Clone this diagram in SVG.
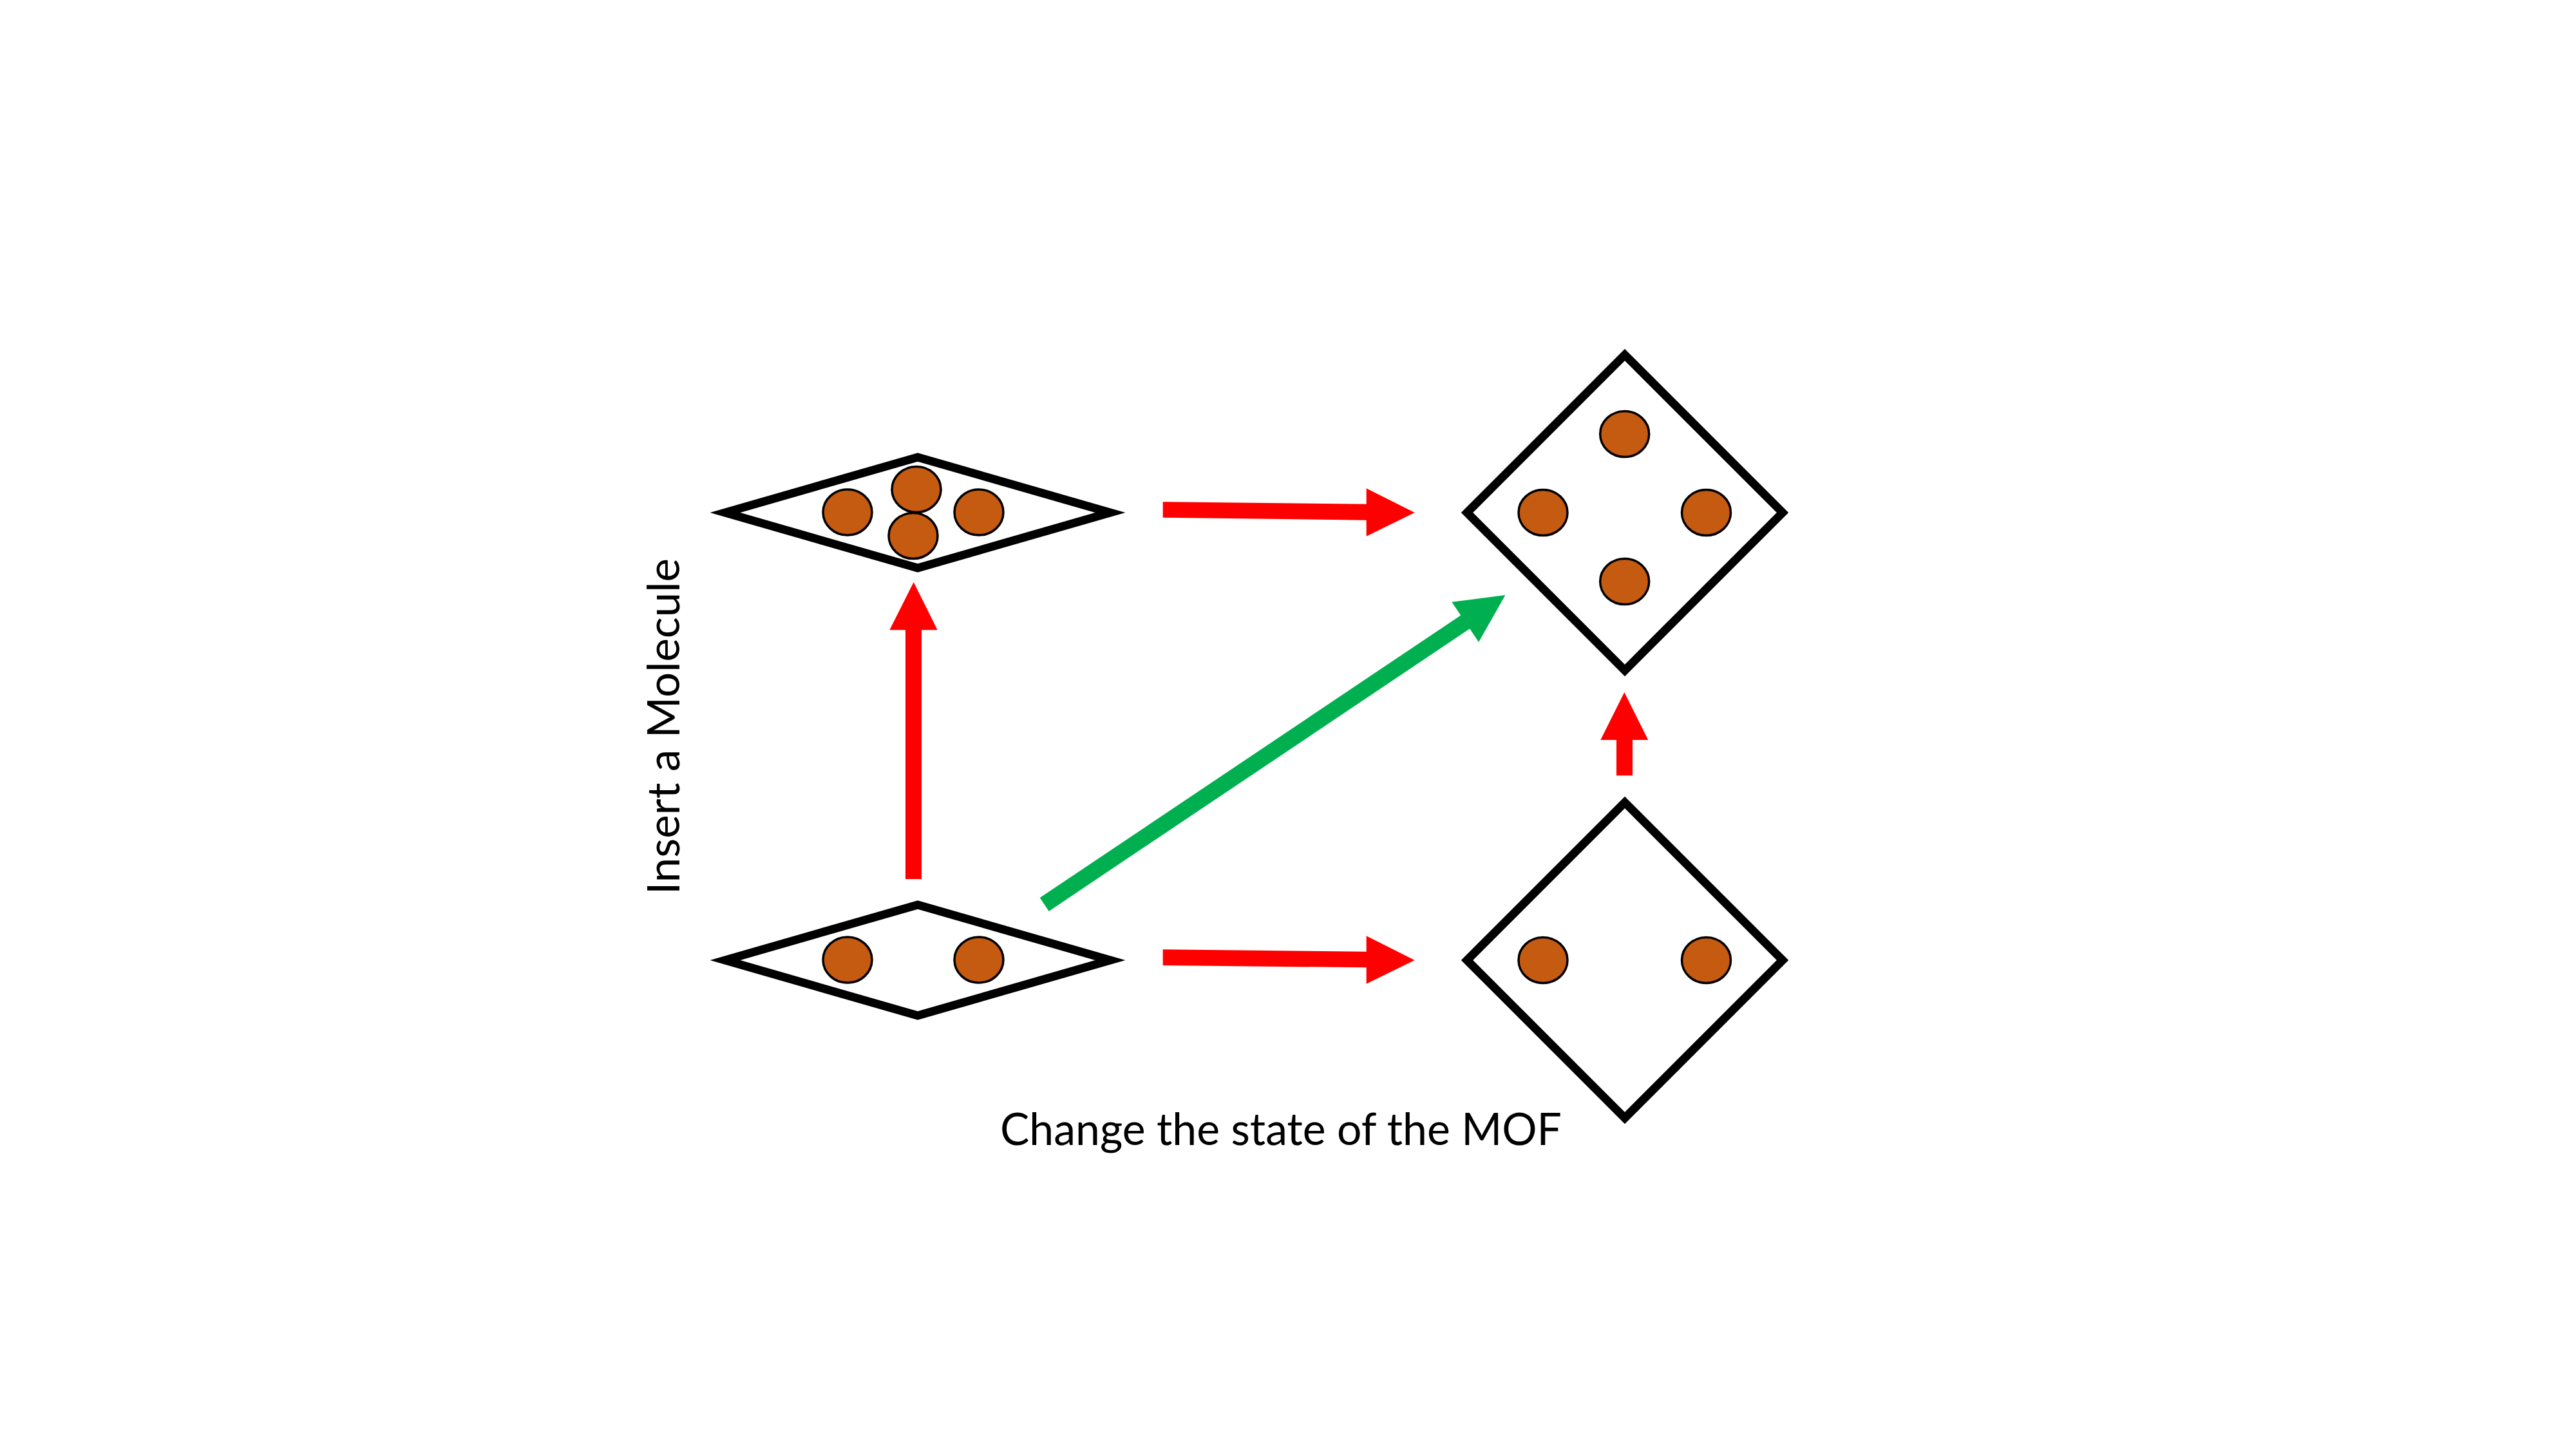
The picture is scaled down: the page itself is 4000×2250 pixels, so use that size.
<svg xmlns="http://www.w3.org/2000/svg" width="4000" height="2250" viewBox="0 0 4000 2250">
  <style>
    .frame { fill: #FFFFFF; stroke: #000000; stroke-width: 13; stroke-linejoin: miter; stroke-miterlimit: 10; }
    .mol { fill: #C55A11; stroke: #000000; stroke-width: 3.5; }
    .red { fill: #FF0000; stroke: none; }
    .green { fill: #00B050; stroke: none; }
    .label { font-family: "Lato", "Open Sans", "Liberation Sans", sans-serif; font-size: 69px; fill: #000000; }
  </style>
  <rect x="0" y="0" width="4000" height="2250" fill="#FFFFFF"/>

  <g id="connectors">
    <polygon id="arrow-top" class="red" points="1805.7,779.3 2121.7,782.7 2121.7,758.3 2196.7,796 2121.7,832.7 2121.7,807.7 1805.7,803.7"/>
    <polygon id="arrow-bottom" class="red" points="1805.7,1474.3 2121.7,1477.7 2121.7,1453.3 2196.7,1491 2121.7,1527.7 2121.7,1502.3 1805.7,1499"/>
    <polygon id="arrow-left-up" class="red" points="1406,1365 1406,978.3 1381.3,978.3 1418.7,904 1455.7,978.3 1431,978.3 1431,1365"/>
    <polygon id="arrow-right-up" class="red" points="2510,1204.3 2510,1149 2485.3,1149 2522.3,1075 2559.3,1149 2535,1149 2535,1204.3"/>
    <polygon id="arrow-diagonal" class="green" points="1614.7,1394.1 2268.2,955.5 2254.3,934.8 2337.5,924.1 2296.1,997.0 2282.2,976.3 1628.7,1414.9"/>
  </g>

  <g id="node-top-left">
    <polygon class="frame" points="1425,710 1724,796 1425,882 1126,796"/>
    <ellipse class="mol" cx="1316" cy="795.5" rx="38" ry="35.5"/>
    <ellipse class="mol" cx="1423" cy="760" rx="38" ry="35.5"/>
    <ellipse class="mol" cx="1520" cy="795.5" rx="38" ry="35.5"/>
    <ellipse class="mol" cx="1418" cy="832" rx="38" ry="35.5"/>
  </g>

  <g id="node-bottom-left">
    <polygon class="frame" points="1425,1405 1724,1491 1425,1577 1126,1491"/>
    <ellipse class="mol" cx="1316" cy="1490.5" rx="38" ry="35.5"/>
    <ellipse class="mol" cx="1520" cy="1490.5" rx="38" ry="35.5"/>
  </g>

  <g id="node-top-right">
    <polygon class="frame" points="2523,551 2768,796 2523,1041 2278,796"/>
    <ellipse class="mol" cx="2522.7" cy="674" rx="38" ry="35.5"/>
    <ellipse class="mol" cx="2396" cy="796" rx="38" ry="35.5"/>
    <ellipse class="mol" cx="2649.5" cy="796" rx="38" ry="35.5"/>
    <ellipse class="mol" cx="2522.7" cy="903" rx="38" ry="35.5"/>
  </g>

  <g id="node-bottom-right">
    <polygon class="frame" points="2523,1246 2768,1491 2523,1736 2278,1491"/>
    <ellipse class="mol" cx="2396" cy="1491" rx="38" ry="35.5"/>
    <ellipse class="mol" cx="2649.5" cy="1491" rx="38" ry="35.5"/>
  </g>

  <g id="labels">
    <text class="label" transform="translate(1055,1128) rotate(-90)" x="0" y="0" text-anchor="middle" textLength="522" lengthAdjust="spacingAndGlyphs">Insert a Molecule</text>
    <text class="label" x="1989" y="1778" text-anchor="middle" textLength="872" lengthAdjust="spacingAndGlyphs">Change the state of the MOF</text>
  </g>
</svg>
